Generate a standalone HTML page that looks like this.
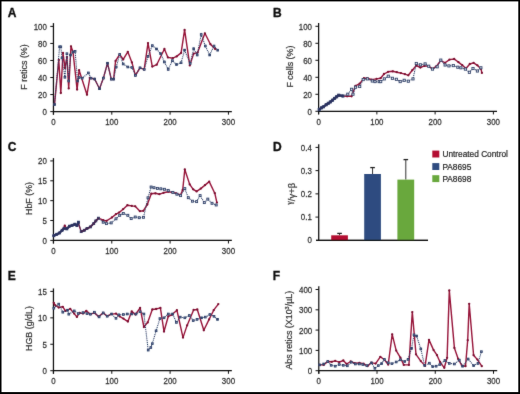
<!DOCTYPE html>
<html><head><meta charset="utf-8"><style>
html,body{margin:0;padding:0;background:#fff;}
svg{display:block;font-family:"Liberation Sans", sans-serif;}
text{stroke-width:0.22px;stroke:#333;}
text.b{stroke:#111;stroke-width:0.35px;}
</style></head><body>
<svg width="520" height="394" viewBox="0 0 520 394">
<defs><filter id="bl" x="-5%" y="-5%" width="110%" height="110%"><feConvolveMatrix order="3" kernelMatrix="0.01 0.06 0.01 0.06 0.72 0.06 0.01 0.06 0.01" preserveAlpha="false"/></filter></defs>
<rect width="520" height="394" fill="#fff"/>
<g filter="url(#bl)">
<line x1="53.45" y1="23.10" x2="53.45" y2="114.70" stroke="#111" stroke-width="1.25"/>
<line x1="53.45" y1="111.60" x2="231.85" y2="111.60" stroke="#111" stroke-width="1.25"/>
<line x1="50.25" y1="111.60" x2="53.45" y2="111.60" stroke="#111" stroke-width="1.0"/>
<text transform="translate(46.85,111.80) scale(1,1.17)" y="2.83" font-size="7.9" text-anchor="end" fill="#333">0</text>
<line x1="50.25" y1="94.56" x2="53.45" y2="94.56" stroke="#111" stroke-width="1.0"/>
<text transform="translate(46.85,94.76) scale(1,1.17)" y="2.83" font-size="7.9" text-anchor="end" fill="#333">20</text>
<line x1="50.25" y1="77.52" x2="53.45" y2="77.52" stroke="#111" stroke-width="1.0"/>
<text transform="translate(46.85,77.72) scale(1,1.17)" y="2.83" font-size="7.9" text-anchor="end" fill="#333">40</text>
<line x1="50.25" y1="60.48" x2="53.45" y2="60.48" stroke="#111" stroke-width="1.0"/>
<text transform="translate(46.85,60.68) scale(1,1.17)" y="2.83" font-size="7.9" text-anchor="end" fill="#333">60</text>
<line x1="50.25" y1="43.44" x2="53.45" y2="43.44" stroke="#111" stroke-width="1.0"/>
<text transform="translate(46.85,43.64) scale(1,1.17)" y="2.83" font-size="7.9" text-anchor="end" fill="#333">80</text>
<line x1="50.25" y1="26.40" x2="53.45" y2="26.40" stroke="#111" stroke-width="1.0"/>
<text transform="translate(46.85,26.60) scale(1,1.17)" y="2.83" font-size="7.9" text-anchor="end" fill="#333">100</text>
<line x1="53.45" y1="111.60" x2="53.45" y2="114.70" stroke="#111" stroke-width="1.0"/>
<text transform="translate(53.45,122.00) scale(1,1.17)" y="2.83" font-size="7.9" text-anchor="middle" fill="#333">0</text>
<line x1="111.78" y1="111.60" x2="111.78" y2="114.70" stroke="#111" stroke-width="1.0"/>
<text transform="translate(111.78,122.00) scale(1,1.17)" y="2.83" font-size="7.9" text-anchor="middle" fill="#333">100</text>
<line x1="170.12" y1="111.60" x2="170.12" y2="114.70" stroke="#111" stroke-width="1.0"/>
<text transform="translate(170.12,122.00) scale(1,1.17)" y="2.83" font-size="7.9" text-anchor="middle" fill="#333">200</text>
<line x1="228.45" y1="111.60" x2="228.45" y2="114.70" stroke="#111" stroke-width="1.0"/>
<text transform="translate(228.45,122.00) scale(1,1.17)" y="2.83" font-size="7.9" text-anchor="middle" fill="#333">300</text>
<text x="7.80" y="16.60" font-size="12" text-anchor="start" fill="#111" font-weight="bold" class="b">A</text>
<text transform="translate(27.30,67.00) rotate(-90)" font-size="8.9" text-anchor="middle" fill="#333">F retics (%)</text>
<line x1="318.60" y1="23.00" x2="318.60" y2="114.40" stroke="#111" stroke-width="1.25"/>
<line x1="318.60" y1="111.30" x2="497.00" y2="111.30" stroke="#111" stroke-width="1.25"/>
<line x1="315.40" y1="111.30" x2="318.60" y2="111.30" stroke="#111" stroke-width="1.0"/>
<text transform="translate(312.00,111.50) scale(1,1.17)" y="2.83" font-size="7.9" text-anchor="end" fill="#333">0</text>
<line x1="315.40" y1="94.30" x2="318.60" y2="94.30" stroke="#111" stroke-width="1.0"/>
<text transform="translate(312.00,94.50) scale(1,1.17)" y="2.83" font-size="7.9" text-anchor="end" fill="#333">20</text>
<line x1="315.40" y1="77.30" x2="318.60" y2="77.30" stroke="#111" stroke-width="1.0"/>
<text transform="translate(312.00,77.50) scale(1,1.17)" y="2.83" font-size="7.9" text-anchor="end" fill="#333">40</text>
<line x1="315.40" y1="60.30" x2="318.60" y2="60.30" stroke="#111" stroke-width="1.0"/>
<text transform="translate(312.00,60.50) scale(1,1.17)" y="2.83" font-size="7.9" text-anchor="end" fill="#333">60</text>
<line x1="315.40" y1="43.30" x2="318.60" y2="43.30" stroke="#111" stroke-width="1.0"/>
<text transform="translate(312.00,43.50) scale(1,1.17)" y="2.83" font-size="7.9" text-anchor="end" fill="#333">80</text>
<line x1="315.40" y1="26.30" x2="318.60" y2="26.30" stroke="#111" stroke-width="1.0"/>
<text transform="translate(312.00,26.50) scale(1,1.17)" y="2.83" font-size="7.9" text-anchor="end" fill="#333">100</text>
<line x1="318.60" y1="111.30" x2="318.60" y2="114.40" stroke="#111" stroke-width="1.0"/>
<text transform="translate(318.60,121.70) scale(1,1.17)" y="2.83" font-size="7.9" text-anchor="middle" fill="#333">0</text>
<line x1="376.87" y1="111.30" x2="376.87" y2="114.40" stroke="#111" stroke-width="1.0"/>
<text transform="translate(376.87,121.70) scale(1,1.17)" y="2.83" font-size="7.9" text-anchor="middle" fill="#333">100</text>
<line x1="435.13" y1="111.30" x2="435.13" y2="114.40" stroke="#111" stroke-width="1.0"/>
<text transform="translate(435.13,121.70) scale(1,1.17)" y="2.83" font-size="7.9" text-anchor="middle" fill="#333">200</text>
<line x1="493.40" y1="111.30" x2="493.40" y2="114.40" stroke="#111" stroke-width="1.0"/>
<text transform="translate(493.40,121.70) scale(1,1.17)" y="2.83" font-size="7.9" text-anchor="middle" fill="#333">300</text>
<text x="273.00" y="16.50" font-size="12" text-anchor="start" fill="#111" font-weight="bold" class="b">B</text>
<text transform="translate(292.50,66.60) rotate(-90)" font-size="8.9" text-anchor="middle" fill="#333">F cells (%)</text>
<line x1="53.45" y1="158.10" x2="53.45" y2="243.50" stroke="#111" stroke-width="1.25"/>
<line x1="53.45" y1="240.40" x2="231.85" y2="240.40" stroke="#111" stroke-width="1.25"/>
<line x1="50.25" y1="240.40" x2="53.45" y2="240.40" stroke="#111" stroke-width="1.0"/>
<text transform="translate(46.85,240.60) scale(1,1.17)" y="2.83" font-size="7.9" text-anchor="end" fill="#333">0</text>
<line x1="50.25" y1="220.53" x2="53.45" y2="220.53" stroke="#111" stroke-width="1.0"/>
<text transform="translate(46.85,220.72) scale(1,1.17)" y="2.83" font-size="7.9" text-anchor="end" fill="#333">5</text>
<line x1="50.25" y1="200.65" x2="53.45" y2="200.65" stroke="#111" stroke-width="1.0"/>
<text transform="translate(46.85,200.85) scale(1,1.17)" y="2.83" font-size="7.9" text-anchor="end" fill="#333">10</text>
<line x1="50.25" y1="180.78" x2="53.45" y2="180.78" stroke="#111" stroke-width="1.0"/>
<text transform="translate(46.85,180.97) scale(1,1.17)" y="2.83" font-size="7.9" text-anchor="end" fill="#333">15</text>
<line x1="50.25" y1="160.90" x2="53.45" y2="160.90" stroke="#111" stroke-width="1.0"/>
<text transform="translate(46.85,161.10) scale(1,1.17)" y="2.83" font-size="7.9" text-anchor="end" fill="#333">20</text>
<line x1="53.45" y1="240.40" x2="53.45" y2="243.50" stroke="#111" stroke-width="1.0"/>
<text transform="translate(53.45,250.80) scale(1,1.17)" y="2.83" font-size="7.9" text-anchor="middle" fill="#333">0</text>
<line x1="111.78" y1="240.40" x2="111.78" y2="243.50" stroke="#111" stroke-width="1.0"/>
<text transform="translate(111.78,250.80) scale(1,1.17)" y="2.83" font-size="7.9" text-anchor="middle" fill="#333">100</text>
<line x1="170.12" y1="240.40" x2="170.12" y2="243.50" stroke="#111" stroke-width="1.0"/>
<text transform="translate(170.12,250.80) scale(1,1.17)" y="2.83" font-size="7.9" text-anchor="middle" fill="#333">200</text>
<line x1="228.45" y1="240.40" x2="228.45" y2="243.50" stroke="#111" stroke-width="1.0"/>
<text transform="translate(228.45,250.80) scale(1,1.17)" y="2.83" font-size="7.9" text-anchor="middle" fill="#333">300</text>
<text x="7.80" y="151.00" font-size="12" text-anchor="start" fill="#111" font-weight="bold" class="b">C</text>
<text transform="translate(32.10,198.50) rotate(-90)" font-size="8.9" text-anchor="middle" fill="#333">HbF (%)</text>
<line x1="53.45" y1="288.40" x2="53.45" y2="373.80" stroke="#111" stroke-width="1.25"/>
<line x1="53.45" y1="370.70" x2="231.85" y2="370.70" stroke="#111" stroke-width="1.25"/>
<line x1="50.25" y1="370.70" x2="53.45" y2="370.70" stroke="#111" stroke-width="1.0"/>
<text transform="translate(46.85,370.90) scale(1,1.17)" y="2.83" font-size="7.9" text-anchor="end" fill="#333">0</text>
<line x1="50.25" y1="344.27" x2="53.45" y2="344.27" stroke="#111" stroke-width="1.0"/>
<text transform="translate(46.85,344.47) scale(1,1.17)" y="2.83" font-size="7.9" text-anchor="end" fill="#333">5</text>
<line x1="50.25" y1="317.83" x2="53.45" y2="317.83" stroke="#111" stroke-width="1.0"/>
<text transform="translate(46.85,318.03) scale(1,1.17)" y="2.83" font-size="7.9" text-anchor="end" fill="#333">10</text>
<line x1="50.25" y1="291.40" x2="53.45" y2="291.40" stroke="#111" stroke-width="1.0"/>
<text transform="translate(46.85,291.60) scale(1,1.17)" y="2.83" font-size="7.9" text-anchor="end" fill="#333">15</text>
<line x1="53.45" y1="370.70" x2="53.45" y2="373.80" stroke="#111" stroke-width="1.0"/>
<text transform="translate(53.45,381.10) scale(1,1.17)" y="2.83" font-size="7.9" text-anchor="middle" fill="#333">0</text>
<line x1="111.78" y1="370.70" x2="111.78" y2="373.80" stroke="#111" stroke-width="1.0"/>
<text transform="translate(111.78,381.10) scale(1,1.17)" y="2.83" font-size="7.9" text-anchor="middle" fill="#333">100</text>
<line x1="170.12" y1="370.70" x2="170.12" y2="373.80" stroke="#111" stroke-width="1.0"/>
<text transform="translate(170.12,381.10) scale(1,1.17)" y="2.83" font-size="7.9" text-anchor="middle" fill="#333">200</text>
<line x1="228.45" y1="370.70" x2="228.45" y2="373.80" stroke="#111" stroke-width="1.0"/>
<text transform="translate(228.45,381.10) scale(1,1.17)" y="2.83" font-size="7.9" text-anchor="middle" fill="#333">300</text>
<text x="7.80" y="279.90" font-size="12" text-anchor="start" fill="#111" font-weight="bold" class="b">E</text>
<text transform="translate(31.70,328.50) rotate(-90)" font-size="8.9" text-anchor="middle" fill="#333">HGB (g/dL)</text>
<line x1="318.80" y1="286.30" x2="318.80" y2="373.80" stroke="#111" stroke-width="1.25"/>
<line x1="318.80" y1="370.70" x2="497.20" y2="370.70" stroke="#111" stroke-width="1.25"/>
<line x1="315.60" y1="370.70" x2="318.80" y2="370.70" stroke="#111" stroke-width="1.0"/>
<text transform="translate(312.20,370.90) scale(1,1.17)" y="2.83" font-size="7.9" text-anchor="end" fill="#333">0</text>
<line x1="315.60" y1="350.40" x2="318.80" y2="350.40" stroke="#111" stroke-width="1.0"/>
<text transform="translate(312.20,350.60) scale(1,1.17)" y="2.83" font-size="7.9" text-anchor="end" fill="#333">100</text>
<line x1="315.60" y1="330.10" x2="318.80" y2="330.10" stroke="#111" stroke-width="1.0"/>
<text transform="translate(312.20,330.30) scale(1,1.17)" y="2.83" font-size="7.9" text-anchor="end" fill="#333">200</text>
<line x1="315.60" y1="309.80" x2="318.80" y2="309.80" stroke="#111" stroke-width="1.0"/>
<text transform="translate(312.20,310.00) scale(1,1.17)" y="2.83" font-size="7.9" text-anchor="end" fill="#333">300</text>
<line x1="315.60" y1="289.50" x2="318.80" y2="289.50" stroke="#111" stroke-width="1.0"/>
<text transform="translate(312.20,289.70) scale(1,1.17)" y="2.83" font-size="7.9" text-anchor="end" fill="#333">400</text>
<line x1="318.80" y1="370.70" x2="318.80" y2="373.80" stroke="#111" stroke-width="1.0"/>
<text transform="translate(318.80,381.10) scale(1,1.17)" y="2.83" font-size="7.9" text-anchor="middle" fill="#333">0</text>
<line x1="377.03" y1="370.70" x2="377.03" y2="373.80" stroke="#111" stroke-width="1.0"/>
<text transform="translate(377.03,381.10) scale(1,1.17)" y="2.83" font-size="7.9" text-anchor="middle" fill="#333">100</text>
<line x1="435.27" y1="370.70" x2="435.27" y2="373.80" stroke="#111" stroke-width="1.0"/>
<text transform="translate(435.27,381.10) scale(1,1.17)" y="2.83" font-size="7.9" text-anchor="middle" fill="#333">200</text>
<line x1="493.50" y1="370.70" x2="493.50" y2="373.80" stroke="#111" stroke-width="1.0"/>
<text transform="translate(493.50,381.10) scale(1,1.17)" y="2.83" font-size="7.9" text-anchor="middle" fill="#333">300</text>
<text x="272.80" y="279.90" font-size="12" text-anchor="start" fill="#111" font-weight="bold" class="b">F</text>
<text transform="translate(292.20,330.20) rotate(-90)" font-size="8.9" text-anchor="middle" fill="#333">Abs retics (X10<tspan font-size="5.5" dy="-3">3</tspan><tspan dy="3">/µL)</tspan></text>
<line x1="318.70" y1="144.30" x2="318.70" y2="240.30" stroke="#111" stroke-width="1.25"/>
<line x1="316.10" y1="240.30" x2="428.00" y2="240.30" stroke="#111" stroke-width="1.25"/>
<line x1="315.50" y1="217.08" x2="318.70" y2="217.08" stroke="#111" stroke-width="1.0"/>
<text transform="translate(311.80,216.98) scale(1,1.17)" y="2.83" font-size="7.9" text-anchor="end" fill="#333">0.1</text>
<line x1="315.50" y1="193.85" x2="318.70" y2="193.85" stroke="#111" stroke-width="1.0"/>
<text transform="translate(311.80,193.75) scale(1,1.17)" y="2.83" font-size="7.9" text-anchor="end" fill="#333">0.2</text>
<line x1="315.50" y1="170.62" x2="318.70" y2="170.62" stroke="#111" stroke-width="1.0"/>
<text transform="translate(311.80,170.53) scale(1,1.17)" y="2.83" font-size="7.9" text-anchor="end" fill="#333">0.3</text>
<line x1="315.50" y1="147.40" x2="318.70" y2="147.40" stroke="#111" stroke-width="1.0"/>
<text transform="translate(311.80,147.30) scale(1,1.17)" y="2.83" font-size="7.9" text-anchor="end" fill="#333">0.4</text>
<text transform="translate(311.80,240.10) scale(1,1.17)" y="2.83" font-size="7.9" text-anchor="end" fill="#333">0</text>
<text x="273.00" y="151.00" font-size="12" text-anchor="start" fill="#111" font-weight="bold" class="b">D</text>
<line x1="339.55" y1="233.40" x2="339.55" y2="235.30" stroke="#333" stroke-width="1.0"/>
<line x1="337.25" y1="233.40" x2="341.85" y2="233.40" stroke="#222" stroke-width="1.3"/>
<rect x="331.20" y="235.30" width="16.70" height="5.00" fill="#b41030"/>
<line x1="372.55" y1="167.60" x2="372.55" y2="174.00" stroke="#333" stroke-width="1.0"/>
<line x1="370.25" y1="167.60" x2="374.85" y2="167.60" stroke="#222" stroke-width="1.3"/>
<rect x="364.20" y="174.00" width="16.70" height="66.30" fill="#2e4c80"/>
<line x1="405.80" y1="159.60" x2="405.80" y2="179.60" stroke="#333" stroke-width="1.0"/>
<line x1="403.50" y1="159.60" x2="408.10" y2="159.60" stroke="#222" stroke-width="1.3"/>
<rect x="397.40" y="179.60" width="16.80" height="60.70" fill="#69a83c"/>
<line x1="316.10" y1="240.30" x2="428.00" y2="240.30" stroke="#111" stroke-width="1.25"/>
<rect x="432.3" y="150.60" width="7" height="6.9" fill="#b41030"/>
<text x="442.40" y="157.35" font-size="8.3" text-anchor="start" fill="#222" >Untreated Control</text>
<rect x="432.3" y="163.10" width="7" height="6.9" fill="#2e4c80"/>
<text x="442.40" y="169.85" font-size="8.3" text-anchor="start" fill="#222" >PA8695</text>
<rect x="432.3" y="175.20" width="7" height="6.9" fill="#69a83c"/>
<text x="442.40" y="181.95" font-size="8.3" text-anchor="start" fill="#222" >PA8698</text>
<text transform="translate(295.2,193.7) rotate(-90)" font-size="9.4" text-anchor="middle" fill="#333"><tspan font-size="6.6" dy="-2.8">γ</tspan><tspan dy="2.8">/γ+β</tspan></text>
<polyline points="54.5,104.5 58.8,60.0 60.8,93.0 63.0,53.0 65.0,68.0 66.9,57.0 68.7,88.4 71.0,46.3 73.0,52.0 77.1,89.5 79.1,70.2 87.0,94.7 89.8,78.0 94.6,79.0 99.5,88.7 103.4,78.1 107.5,63.2 111.3,79.2 113.6,79.2 115.6,60.9 119.7,54.5 123.2,59.4 127.8,51.8 131.9,62.4 135.4,75.4 140.0,67.8 144.2,69.4 148.0,43.1 152.3,66.6 156.7,64.7 164.4,49.0 167.9,57.4 172.8,58.2 176.7,56.4 181.1,52.9 184.6,29.9 189.8,65.4 193.7,53.6 197.6,52.6 204.9,33.3 210.4,44.2 215.2,49.0" fill="none" stroke="#961239" stroke-width="1.4" stroke-linejoin="round"/>
<circle cx="54.5" cy="104.5" r="1.15" fill="#7a0e30"/>
<circle cx="58.8" cy="60.0" r="1.15" fill="#7a0e30"/>
<circle cx="60.8" cy="93.0" r="1.15" fill="#7a0e30"/>
<circle cx="63.0" cy="53.0" r="1.15" fill="#7a0e30"/>
<circle cx="65.0" cy="68.0" r="1.15" fill="#7a0e30"/>
<circle cx="66.9" cy="57.0" r="1.15" fill="#7a0e30"/>
<circle cx="68.7" cy="88.4" r="1.15" fill="#7a0e30"/>
<circle cx="71.0" cy="46.3" r="1.15" fill="#7a0e30"/>
<circle cx="73.0" cy="52.0" r="1.15" fill="#7a0e30"/>
<circle cx="77.1" cy="89.5" r="1.15" fill="#7a0e30"/>
<circle cx="79.1" cy="70.2" r="1.15" fill="#7a0e30"/>
<circle cx="87.0" cy="94.7" r="1.15" fill="#7a0e30"/>
<circle cx="89.8" cy="78.0" r="1.15" fill="#7a0e30"/>
<circle cx="94.6" cy="79.0" r="1.15" fill="#7a0e30"/>
<circle cx="99.5" cy="88.7" r="1.15" fill="#7a0e30"/>
<circle cx="103.4" cy="78.1" r="1.15" fill="#7a0e30"/>
<circle cx="107.5" cy="63.2" r="1.15" fill="#7a0e30"/>
<circle cx="111.3" cy="79.2" r="1.15" fill="#7a0e30"/>
<circle cx="113.6" cy="79.2" r="1.15" fill="#7a0e30"/>
<circle cx="115.6" cy="60.9" r="1.15" fill="#7a0e30"/>
<circle cx="119.7" cy="54.5" r="1.15" fill="#7a0e30"/>
<circle cx="123.2" cy="59.4" r="1.15" fill="#7a0e30"/>
<circle cx="127.8" cy="51.8" r="1.15" fill="#7a0e30"/>
<circle cx="131.9" cy="62.4" r="1.15" fill="#7a0e30"/>
<circle cx="135.4" cy="75.4" r="1.15" fill="#7a0e30"/>
<circle cx="140.0" cy="67.8" r="1.15" fill="#7a0e30"/>
<circle cx="144.2" cy="69.4" r="1.15" fill="#7a0e30"/>
<circle cx="148.0" cy="43.1" r="1.15" fill="#7a0e30"/>
<circle cx="152.3" cy="66.6" r="1.15" fill="#7a0e30"/>
<circle cx="156.7" cy="64.7" r="1.15" fill="#7a0e30"/>
<circle cx="164.4" cy="49.0" r="1.15" fill="#7a0e30"/>
<circle cx="167.9" cy="57.4" r="1.15" fill="#7a0e30"/>
<circle cx="172.8" cy="58.2" r="1.15" fill="#7a0e30"/>
<circle cx="176.7" cy="56.4" r="1.15" fill="#7a0e30"/>
<circle cx="181.1" cy="52.9" r="1.15" fill="#7a0e30"/>
<circle cx="184.6" cy="29.9" r="1.15" fill="#7a0e30"/>
<circle cx="189.8" cy="65.4" r="1.15" fill="#7a0e30"/>
<circle cx="193.7" cy="53.6" r="1.15" fill="#7a0e30"/>
<circle cx="197.6" cy="52.6" r="1.15" fill="#7a0e30"/>
<circle cx="204.9" cy="33.3" r="1.15" fill="#7a0e30"/>
<circle cx="210.4" cy="44.2" r="1.15" fill="#7a0e30"/>
<circle cx="215.2" cy="49.0" r="1.15" fill="#7a0e30"/>
<polyline points="54.5,104.5 59.6,46.8 60.8,46.8 62.0,58.0 64.9,77.3 66.9,53.7 68.7,81.0 70.5,55.0 73.0,52.0 75.1,51.4 77.6,81.0 79.1,77.5 82.2,78.2 88.4,72.9 91.0,78.2 94.6,79.0 99.5,88.7 103.4,78.1 107.5,63.2 111.3,79.2 113.6,79.2 116.2,67.0 119.7,54.5 123.2,64.0 127.8,67.0 131.9,67.5 135.4,75.4 140.0,67.8 144.2,69.4 148.0,56.4 152.3,45.6 156.5,49.0 160.6,53.6 164.4,62.0 168.2,69.4 172.4,60.6 176.5,64.5 181.1,62.7 184.6,50.1 190.2,63.4 193.7,48.7 197.2,55.0 201.2,34.5 205.3,46.0 209.7,55.0 214.0,46.0 217.7,50.2" fill="none" stroke="#2b3d66" stroke-width="1.05" stroke-dasharray="1.1 0.8"/>
<rect x="53.62" y="103.62" width="1.75" height="1.75" fill="#7d8db0" stroke="#2b3d66" stroke-width="0.85"/>
<rect x="58.73" y="45.92" width="1.75" height="1.75" fill="#7d8db0" stroke="#2b3d66" stroke-width="0.85"/>
<rect x="59.92" y="45.92" width="1.75" height="1.75" fill="#7d8db0" stroke="#2b3d66" stroke-width="0.85"/>
<rect x="61.12" y="57.12" width="1.75" height="1.75" fill="#7d8db0" stroke="#2b3d66" stroke-width="0.85"/>
<rect x="64.03" y="76.42" width="1.75" height="1.75" fill="#7d8db0" stroke="#2b3d66" stroke-width="0.85"/>
<rect x="66.03" y="52.83" width="1.75" height="1.75" fill="#7d8db0" stroke="#2b3d66" stroke-width="0.85"/>
<rect x="67.83" y="80.12" width="1.75" height="1.75" fill="#7d8db0" stroke="#2b3d66" stroke-width="0.85"/>
<rect x="69.62" y="54.12" width="1.75" height="1.75" fill="#7d8db0" stroke="#2b3d66" stroke-width="0.85"/>
<rect x="72.12" y="51.12" width="1.75" height="1.75" fill="#7d8db0" stroke="#2b3d66" stroke-width="0.85"/>
<rect x="74.22" y="50.52" width="1.75" height="1.75" fill="#7d8db0" stroke="#2b3d66" stroke-width="0.85"/>
<rect x="76.72" y="80.12" width="1.75" height="1.75" fill="#7d8db0" stroke="#2b3d66" stroke-width="0.85"/>
<rect x="78.22" y="76.62" width="1.75" height="1.75" fill="#7d8db0" stroke="#2b3d66" stroke-width="0.85"/>
<rect x="81.33" y="77.33" width="1.75" height="1.75" fill="#7d8db0" stroke="#2b3d66" stroke-width="0.85"/>
<rect x="87.53" y="72.03" width="1.75" height="1.75" fill="#7d8db0" stroke="#2b3d66" stroke-width="0.85"/>
<rect x="90.12" y="77.33" width="1.75" height="1.75" fill="#7d8db0" stroke="#2b3d66" stroke-width="0.85"/>
<rect x="93.72" y="78.12" width="1.75" height="1.75" fill="#7d8db0" stroke="#2b3d66" stroke-width="0.85"/>
<rect x="98.62" y="87.83" width="1.75" height="1.75" fill="#7d8db0" stroke="#2b3d66" stroke-width="0.85"/>
<rect x="102.53" y="77.22" width="1.75" height="1.75" fill="#7d8db0" stroke="#2b3d66" stroke-width="0.85"/>
<rect x="106.62" y="62.33" width="1.75" height="1.75" fill="#7d8db0" stroke="#2b3d66" stroke-width="0.85"/>
<rect x="110.42" y="78.33" width="1.75" height="1.75" fill="#7d8db0" stroke="#2b3d66" stroke-width="0.85"/>
<rect x="112.72" y="78.33" width="1.75" height="1.75" fill="#7d8db0" stroke="#2b3d66" stroke-width="0.85"/>
<rect x="115.33" y="66.12" width="1.75" height="1.75" fill="#7d8db0" stroke="#2b3d66" stroke-width="0.85"/>
<rect x="118.83" y="53.62" width="1.75" height="1.75" fill="#7d8db0" stroke="#2b3d66" stroke-width="0.85"/>
<rect x="122.33" y="63.12" width="1.75" height="1.75" fill="#7d8db0" stroke="#2b3d66" stroke-width="0.85"/>
<rect x="126.92" y="66.12" width="1.75" height="1.75" fill="#7d8db0" stroke="#2b3d66" stroke-width="0.85"/>
<rect x="131.03" y="66.62" width="1.75" height="1.75" fill="#7d8db0" stroke="#2b3d66" stroke-width="0.85"/>
<rect x="134.53" y="74.53" width="1.75" height="1.75" fill="#7d8db0" stroke="#2b3d66" stroke-width="0.85"/>
<rect x="139.12" y="66.92" width="1.75" height="1.75" fill="#7d8db0" stroke="#2b3d66" stroke-width="0.85"/>
<rect x="143.32" y="68.53" width="1.75" height="1.75" fill="#7d8db0" stroke="#2b3d66" stroke-width="0.85"/>
<rect x="147.12" y="55.52" width="1.75" height="1.75" fill="#7d8db0" stroke="#2b3d66" stroke-width="0.85"/>
<rect x="151.43" y="44.73" width="1.75" height="1.75" fill="#7d8db0" stroke="#2b3d66" stroke-width="0.85"/>
<rect x="155.62" y="48.12" width="1.75" height="1.75" fill="#7d8db0" stroke="#2b3d66" stroke-width="0.85"/>
<rect x="159.72" y="52.73" width="1.75" height="1.75" fill="#7d8db0" stroke="#2b3d66" stroke-width="0.85"/>
<rect x="163.53" y="61.12" width="1.75" height="1.75" fill="#7d8db0" stroke="#2b3d66" stroke-width="0.85"/>
<rect x="167.32" y="68.53" width="1.75" height="1.75" fill="#7d8db0" stroke="#2b3d66" stroke-width="0.85"/>
<rect x="171.53" y="59.73" width="1.75" height="1.75" fill="#7d8db0" stroke="#2b3d66" stroke-width="0.85"/>
<rect x="175.62" y="63.62" width="1.75" height="1.75" fill="#7d8db0" stroke="#2b3d66" stroke-width="0.85"/>
<rect x="180.22" y="61.83" width="1.75" height="1.75" fill="#7d8db0" stroke="#2b3d66" stroke-width="0.85"/>
<rect x="183.72" y="49.23" width="1.75" height="1.75" fill="#7d8db0" stroke="#2b3d66" stroke-width="0.85"/>
<rect x="189.32" y="62.52" width="1.75" height="1.75" fill="#7d8db0" stroke="#2b3d66" stroke-width="0.85"/>
<rect x="192.82" y="47.83" width="1.75" height="1.75" fill="#7d8db0" stroke="#2b3d66" stroke-width="0.85"/>
<rect x="196.32" y="54.12" width="1.75" height="1.75" fill="#7d8db0" stroke="#2b3d66" stroke-width="0.85"/>
<rect x="200.32" y="33.62" width="1.75" height="1.75" fill="#7d8db0" stroke="#2b3d66" stroke-width="0.85"/>
<rect x="204.43" y="45.12" width="1.75" height="1.75" fill="#7d8db0" stroke="#2b3d66" stroke-width="0.85"/>
<rect x="208.82" y="54.12" width="1.75" height="1.75" fill="#7d8db0" stroke="#2b3d66" stroke-width="0.85"/>
<rect x="213.12" y="45.12" width="1.75" height="1.75" fill="#7d8db0" stroke="#2b3d66" stroke-width="0.85"/>
<rect x="216.82" y="49.33" width="1.75" height="1.75" fill="#7d8db0" stroke="#2b3d66" stroke-width="0.85"/>
<polyline points="319.2,109.5 323.4,106.8 326.2,104.7 330.4,101.9 334.6,98.4 338.7,95.2 342.9,96.0 347.1,96.3 351.6,96.3 355.5,85.8 359.7,83.7 363.9,78.2 367.4,78.2 371.6,79.6 376.5,78.9 380.6,78.2 384.0,74.0 388.1,71.8 392.8,71.3 396.8,72.2 400.9,73.1 404.9,74.2 408.3,75.3 412.3,70.2 416.3,65.5 420.4,67.5 424.4,65.9 428.5,66.2 432.5,68.8 436.5,66.2 440.8,60.5 445.1,62.8 449.5,59.6 454.2,59.0 458.4,62.1 462.2,65.1 466.0,68.5 469.8,64.0 473.6,62.8 477.4,65.3 480.9,68.9 481.9,72.9" fill="none" stroke="#961239" stroke-width="1.4" stroke-linejoin="round"/>
<circle cx="319.2" cy="109.5" r="1.15" fill="#7a0e30"/>
<circle cx="323.4" cy="106.8" r="1.15" fill="#7a0e30"/>
<circle cx="326.2" cy="104.7" r="1.15" fill="#7a0e30"/>
<circle cx="330.4" cy="101.9" r="1.15" fill="#7a0e30"/>
<circle cx="334.6" cy="98.4" r="1.15" fill="#7a0e30"/>
<circle cx="338.7" cy="95.2" r="1.15" fill="#7a0e30"/>
<circle cx="342.9" cy="96.0" r="1.15" fill="#7a0e30"/>
<circle cx="347.1" cy="96.3" r="1.15" fill="#7a0e30"/>
<circle cx="351.6" cy="96.3" r="1.15" fill="#7a0e30"/>
<circle cx="355.5" cy="85.8" r="1.15" fill="#7a0e30"/>
<circle cx="359.7" cy="83.7" r="1.15" fill="#7a0e30"/>
<circle cx="363.9" cy="78.2" r="1.15" fill="#7a0e30"/>
<circle cx="367.4" cy="78.2" r="1.15" fill="#7a0e30"/>
<circle cx="371.6" cy="79.6" r="1.15" fill="#7a0e30"/>
<circle cx="376.5" cy="78.9" r="1.15" fill="#7a0e30"/>
<circle cx="380.6" cy="78.2" r="1.15" fill="#7a0e30"/>
<circle cx="384.0" cy="74.0" r="1.15" fill="#7a0e30"/>
<circle cx="388.1" cy="71.8" r="1.15" fill="#7a0e30"/>
<circle cx="392.8" cy="71.3" r="1.15" fill="#7a0e30"/>
<circle cx="396.8" cy="72.2" r="1.15" fill="#7a0e30"/>
<circle cx="400.9" cy="73.1" r="1.15" fill="#7a0e30"/>
<circle cx="404.9" cy="74.2" r="1.15" fill="#7a0e30"/>
<circle cx="408.3" cy="75.3" r="1.15" fill="#7a0e30"/>
<circle cx="412.3" cy="70.2" r="1.15" fill="#7a0e30"/>
<circle cx="416.3" cy="65.5" r="1.15" fill="#7a0e30"/>
<circle cx="420.4" cy="67.5" r="1.15" fill="#7a0e30"/>
<circle cx="424.4" cy="65.9" r="1.15" fill="#7a0e30"/>
<circle cx="428.5" cy="66.2" r="1.15" fill="#7a0e30"/>
<circle cx="432.5" cy="68.8" r="1.15" fill="#7a0e30"/>
<circle cx="436.5" cy="66.2" r="1.15" fill="#7a0e30"/>
<circle cx="440.8" cy="60.5" r="1.15" fill="#7a0e30"/>
<circle cx="445.1" cy="62.8" r="1.15" fill="#7a0e30"/>
<circle cx="449.5" cy="59.6" r="1.15" fill="#7a0e30"/>
<circle cx="454.2" cy="59.0" r="1.15" fill="#7a0e30"/>
<circle cx="458.4" cy="62.1" r="1.15" fill="#7a0e30"/>
<circle cx="462.2" cy="65.1" r="1.15" fill="#7a0e30"/>
<circle cx="466.0" cy="68.5" r="1.15" fill="#7a0e30"/>
<circle cx="469.8" cy="64.0" r="1.15" fill="#7a0e30"/>
<circle cx="473.6" cy="62.8" r="1.15" fill="#7a0e30"/>
<circle cx="477.4" cy="65.3" r="1.15" fill="#7a0e30"/>
<circle cx="480.9" cy="68.9" r="1.15" fill="#7a0e30"/>
<circle cx="481.9" cy="72.9" r="1.15" fill="#7a0e30"/>
<polyline points="319.2,109.5 321.5,107.8 323.4,106.8 326.2,104.7 328.3,103.3 330.4,101.9 332.5,100.2 334.6,98.4 336.6,96.8 338.7,95.2 342.9,96.0 347.8,94.2 351.6,89.3 353.0,94.2 355.5,87.2 359.7,86.5 363.2,79.6 367.4,78.9 372.3,81.0 375.0,81.6 379.2,81.6 380.7,81.6 384.3,78.9 388.3,76.2 392.4,78.3 396.4,79.3 400.2,81.6 404.2,80.3 408.3,81.2 413.0,78.9 416.3,63.5 420.4,64.8 425.1,63.9 428.7,66.2 432.5,69.1 437.2,66.8 440.8,60.1 445.1,65.0 448.9,65.9 453.3,65.6 457.8,67.2 460.9,67.8 465.4,69.1 469.4,72.3 473.0,68.5 477.4,71.0 480.9,67.8" fill="none" stroke="#2b3d66" stroke-width="1.05" stroke-dasharray="1.1 0.8"/>
<rect x="318.10" y="108.40" width="2.2" height="2.2" fill="#d4dbe8" stroke="#2b3d66" stroke-width="0.85"/>
<rect x="320.40" y="106.70" width="2.2" height="2.2" fill="#d4dbe8" stroke="#2b3d66" stroke-width="0.85"/>
<rect x="322.30" y="105.70" width="2.2" height="2.2" fill="#d4dbe8" stroke="#2b3d66" stroke-width="0.85"/>
<rect x="325.10" y="103.60" width="2.2" height="2.2" fill="#d4dbe8" stroke="#2b3d66" stroke-width="0.85"/>
<rect x="327.20" y="102.20" width="2.2" height="2.2" fill="#d4dbe8" stroke="#2b3d66" stroke-width="0.85"/>
<rect x="329.30" y="100.80" width="2.2" height="2.2" fill="#d4dbe8" stroke="#2b3d66" stroke-width="0.85"/>
<rect x="331.40" y="99.10" width="2.2" height="2.2" fill="#d4dbe8" stroke="#2b3d66" stroke-width="0.85"/>
<rect x="333.50" y="97.30" width="2.2" height="2.2" fill="#d4dbe8" stroke="#2b3d66" stroke-width="0.85"/>
<rect x="335.50" y="95.70" width="2.2" height="2.2" fill="#d4dbe8" stroke="#2b3d66" stroke-width="0.85"/>
<rect x="337.60" y="94.10" width="2.2" height="2.2" fill="#d4dbe8" stroke="#2b3d66" stroke-width="0.85"/>
<rect x="341.80" y="94.90" width="2.2" height="2.2" fill="#d4dbe8" stroke="#2b3d66" stroke-width="0.85"/>
<rect x="346.70" y="93.10" width="2.2" height="2.2" fill="#d4dbe8" stroke="#2b3d66" stroke-width="0.85"/>
<rect x="350.50" y="88.20" width="2.2" height="2.2" fill="#d4dbe8" stroke="#2b3d66" stroke-width="0.85"/>
<rect x="351.90" y="93.10" width="2.2" height="2.2" fill="#d4dbe8" stroke="#2b3d66" stroke-width="0.85"/>
<rect x="354.40" y="86.10" width="2.2" height="2.2" fill="#d4dbe8" stroke="#2b3d66" stroke-width="0.85"/>
<rect x="358.60" y="85.40" width="2.2" height="2.2" fill="#d4dbe8" stroke="#2b3d66" stroke-width="0.85"/>
<rect x="362.10" y="78.50" width="2.2" height="2.2" fill="#d4dbe8" stroke="#2b3d66" stroke-width="0.85"/>
<rect x="366.30" y="77.80" width="2.2" height="2.2" fill="#d4dbe8" stroke="#2b3d66" stroke-width="0.85"/>
<rect x="371.20" y="79.90" width="2.2" height="2.2" fill="#d4dbe8" stroke="#2b3d66" stroke-width="0.85"/>
<rect x="373.90" y="80.50" width="2.2" height="2.2" fill="#d4dbe8" stroke="#2b3d66" stroke-width="0.85"/>
<rect x="378.10" y="80.50" width="2.2" height="2.2" fill="#d4dbe8" stroke="#2b3d66" stroke-width="0.85"/>
<rect x="379.60" y="80.50" width="2.2" height="2.2" fill="#d4dbe8" stroke="#2b3d66" stroke-width="0.85"/>
<rect x="383.20" y="77.80" width="2.2" height="2.2" fill="#d4dbe8" stroke="#2b3d66" stroke-width="0.85"/>
<rect x="387.20" y="75.10" width="2.2" height="2.2" fill="#d4dbe8" stroke="#2b3d66" stroke-width="0.85"/>
<rect x="391.30" y="77.20" width="2.2" height="2.2" fill="#d4dbe8" stroke="#2b3d66" stroke-width="0.85"/>
<rect x="395.30" y="78.20" width="2.2" height="2.2" fill="#d4dbe8" stroke="#2b3d66" stroke-width="0.85"/>
<rect x="399.10" y="80.50" width="2.2" height="2.2" fill="#d4dbe8" stroke="#2b3d66" stroke-width="0.85"/>
<rect x="403.10" y="79.20" width="2.2" height="2.2" fill="#d4dbe8" stroke="#2b3d66" stroke-width="0.85"/>
<rect x="407.20" y="80.10" width="2.2" height="2.2" fill="#d4dbe8" stroke="#2b3d66" stroke-width="0.85"/>
<rect x="411.90" y="77.80" width="2.2" height="2.2" fill="#d4dbe8" stroke="#2b3d66" stroke-width="0.85"/>
<rect x="415.20" y="62.40" width="2.2" height="2.2" fill="#d4dbe8" stroke="#2b3d66" stroke-width="0.85"/>
<rect x="419.30" y="63.70" width="2.2" height="2.2" fill="#d4dbe8" stroke="#2b3d66" stroke-width="0.85"/>
<rect x="424.00" y="62.80" width="2.2" height="2.2" fill="#d4dbe8" stroke="#2b3d66" stroke-width="0.85"/>
<rect x="427.60" y="65.10" width="2.2" height="2.2" fill="#d4dbe8" stroke="#2b3d66" stroke-width="0.85"/>
<rect x="431.40" y="68.00" width="2.2" height="2.2" fill="#d4dbe8" stroke="#2b3d66" stroke-width="0.85"/>
<rect x="436.10" y="65.70" width="2.2" height="2.2" fill="#d4dbe8" stroke="#2b3d66" stroke-width="0.85"/>
<rect x="439.70" y="59.00" width="2.2" height="2.2" fill="#d4dbe8" stroke="#2b3d66" stroke-width="0.85"/>
<rect x="444.00" y="63.90" width="2.2" height="2.2" fill="#d4dbe8" stroke="#2b3d66" stroke-width="0.85"/>
<rect x="447.80" y="64.80" width="2.2" height="2.2" fill="#d4dbe8" stroke="#2b3d66" stroke-width="0.85"/>
<rect x="452.20" y="64.50" width="2.2" height="2.2" fill="#d4dbe8" stroke="#2b3d66" stroke-width="0.85"/>
<rect x="456.70" y="66.10" width="2.2" height="2.2" fill="#d4dbe8" stroke="#2b3d66" stroke-width="0.85"/>
<rect x="459.80" y="66.70" width="2.2" height="2.2" fill="#d4dbe8" stroke="#2b3d66" stroke-width="0.85"/>
<rect x="464.30" y="68.00" width="2.2" height="2.2" fill="#d4dbe8" stroke="#2b3d66" stroke-width="0.85"/>
<rect x="468.30" y="71.20" width="2.2" height="2.2" fill="#d4dbe8" stroke="#2b3d66" stroke-width="0.85"/>
<rect x="471.90" y="67.40" width="2.2" height="2.2" fill="#d4dbe8" stroke="#2b3d66" stroke-width="0.85"/>
<rect x="476.30" y="69.90" width="2.2" height="2.2" fill="#d4dbe8" stroke="#2b3d66" stroke-width="0.85"/>
<rect x="479.80" y="66.70" width="2.2" height="2.2" fill="#d4dbe8" stroke="#2b3d66" stroke-width="0.85"/>
<polyline points="53.8,235.7 56.7,234.3 59.4,233.0 62.1,230.3 64.8,225.6 66.8,228.9 69.5,226.2 72.2,225.3 74.9,224.2 76.9,225.6 78.5,224.0 81.2,231.6 84.3,230.3 87.0,228.5 90.4,226.9 93.7,223.6 95.8,220.9 98.5,218.2 103.2,220.2 106.5,220.9 111.9,217.5 116.0,214.1 119.0,212.6 123.1,209.2 127.4,205.2 131.8,205.9 135.2,206.3 139.9,211.2 143.3,210.8 147.3,204.5 151.3,193.7 155.4,193.3 159.4,194.2 163.5,192.8 168.2,191.7 172.2,192.4 176.2,193.3 180.6,194.9 182.7,190.0 184.8,169.5 189.7,184.4 193.2,189.3 196.6,191.4 200.8,188.6 205.0,185.1 209.2,181.6 214.8,193.2 216.9,202.6" fill="none" stroke="#961239" stroke-width="1.4" stroke-linejoin="round"/>
<circle cx="53.8" cy="235.7" r="1.15" fill="#7a0e30"/>
<circle cx="56.7" cy="234.3" r="1.15" fill="#7a0e30"/>
<circle cx="59.4" cy="233.0" r="1.15" fill="#7a0e30"/>
<circle cx="62.1" cy="230.3" r="1.15" fill="#7a0e30"/>
<circle cx="64.8" cy="225.6" r="1.15" fill="#7a0e30"/>
<circle cx="66.8" cy="228.9" r="1.15" fill="#7a0e30"/>
<circle cx="69.5" cy="226.2" r="1.15" fill="#7a0e30"/>
<circle cx="72.2" cy="225.3" r="1.15" fill="#7a0e30"/>
<circle cx="74.9" cy="224.2" r="1.15" fill="#7a0e30"/>
<circle cx="76.9" cy="225.6" r="1.15" fill="#7a0e30"/>
<circle cx="78.5" cy="224.0" r="1.15" fill="#7a0e30"/>
<circle cx="81.2" cy="231.6" r="1.15" fill="#7a0e30"/>
<circle cx="84.3" cy="230.3" r="1.15" fill="#7a0e30"/>
<circle cx="87.0" cy="228.5" r="1.15" fill="#7a0e30"/>
<circle cx="90.4" cy="226.9" r="1.15" fill="#7a0e30"/>
<circle cx="93.7" cy="223.6" r="1.15" fill="#7a0e30"/>
<circle cx="95.8" cy="220.9" r="1.15" fill="#7a0e30"/>
<circle cx="98.5" cy="218.2" r="1.15" fill="#7a0e30"/>
<circle cx="103.2" cy="220.2" r="1.15" fill="#7a0e30"/>
<circle cx="106.5" cy="220.9" r="1.15" fill="#7a0e30"/>
<circle cx="111.9" cy="217.5" r="1.15" fill="#7a0e30"/>
<circle cx="116.0" cy="214.1" r="1.15" fill="#7a0e30"/>
<circle cx="119.0" cy="212.6" r="1.15" fill="#7a0e30"/>
<circle cx="123.1" cy="209.2" r="1.15" fill="#7a0e30"/>
<circle cx="127.4" cy="205.2" r="1.15" fill="#7a0e30"/>
<circle cx="131.8" cy="205.9" r="1.15" fill="#7a0e30"/>
<circle cx="135.2" cy="206.3" r="1.15" fill="#7a0e30"/>
<circle cx="139.9" cy="211.2" r="1.15" fill="#7a0e30"/>
<circle cx="143.3" cy="210.8" r="1.15" fill="#7a0e30"/>
<circle cx="147.3" cy="204.5" r="1.15" fill="#7a0e30"/>
<circle cx="151.3" cy="193.7" r="1.15" fill="#7a0e30"/>
<circle cx="155.4" cy="193.3" r="1.15" fill="#7a0e30"/>
<circle cx="159.4" cy="194.2" r="1.15" fill="#7a0e30"/>
<circle cx="163.5" cy="192.8" r="1.15" fill="#7a0e30"/>
<circle cx="168.2" cy="191.7" r="1.15" fill="#7a0e30"/>
<circle cx="172.2" cy="192.4" r="1.15" fill="#7a0e30"/>
<circle cx="176.2" cy="193.3" r="1.15" fill="#7a0e30"/>
<circle cx="180.6" cy="194.9" r="1.15" fill="#7a0e30"/>
<circle cx="182.7" cy="190.0" r="1.15" fill="#7a0e30"/>
<circle cx="184.8" cy="169.5" r="1.15" fill="#7a0e30"/>
<circle cx="189.7" cy="184.4" r="1.15" fill="#7a0e30"/>
<circle cx="193.2" cy="189.3" r="1.15" fill="#7a0e30"/>
<circle cx="196.6" cy="191.4" r="1.15" fill="#7a0e30"/>
<circle cx="200.8" cy="188.6" r="1.15" fill="#7a0e30"/>
<circle cx="205.0" cy="185.1" r="1.15" fill="#7a0e30"/>
<circle cx="209.2" cy="181.6" r="1.15" fill="#7a0e30"/>
<circle cx="214.8" cy="193.2" r="1.15" fill="#7a0e30"/>
<circle cx="216.9" cy="202.6" r="1.15" fill="#7a0e30"/>
<polyline points="53.8,235.7 56.7,234.3 59.4,233.0 62.1,230.3 64.1,228.3 66.8,228.9 69.5,226.2 72.2,225.3 74.9,224.2 76.9,225.6 78.5,222.2 81.2,231.6 84.3,230.3 87.0,228.5 90.4,226.9 93.7,223.6 95.8,220.9 98.5,218.2 103.2,222.2 106.5,223.6 111.2,222.9 116.0,218.8 119.7,215.3 123.3,213.5 127.8,215.3 131.2,218.6 135.2,217.0 139.2,217.7 143.5,217.3 148.0,197.8 151.1,187.0 154.0,187.7 157.4,188.4 160.8,188.8 164.5,189.3 168.2,190.4 172.9,192.4 176.9,194.2 180.6,195.6 184.8,188.6 188.3,197.7 192.5,201.2 196.6,201.6 200.1,195.6 204.3,202.6 207.8,199.1 212.0,203.3 216.2,205.0" fill="none" stroke="#2b3d66" stroke-width="1.05" stroke-dasharray="1.1 0.8"/>
<rect x="52.80" y="234.70" width="2.0" height="2.0" fill="#b8c2d6" stroke="#2b3d66" stroke-width="0.85"/>
<rect x="55.70" y="233.30" width="2.0" height="2.0" fill="#b8c2d6" stroke="#2b3d66" stroke-width="0.85"/>
<rect x="58.40" y="232.00" width="2.0" height="2.0" fill="#b8c2d6" stroke="#2b3d66" stroke-width="0.85"/>
<rect x="61.10" y="229.30" width="2.0" height="2.0" fill="#b8c2d6" stroke="#2b3d66" stroke-width="0.85"/>
<rect x="63.10" y="227.30" width="2.0" height="2.0" fill="#b8c2d6" stroke="#2b3d66" stroke-width="0.85"/>
<rect x="65.80" y="227.90" width="2.0" height="2.0" fill="#b8c2d6" stroke="#2b3d66" stroke-width="0.85"/>
<rect x="68.50" y="225.20" width="2.0" height="2.0" fill="#b8c2d6" stroke="#2b3d66" stroke-width="0.85"/>
<rect x="71.20" y="224.30" width="2.0" height="2.0" fill="#b8c2d6" stroke="#2b3d66" stroke-width="0.85"/>
<rect x="73.90" y="223.20" width="2.0" height="2.0" fill="#b8c2d6" stroke="#2b3d66" stroke-width="0.85"/>
<rect x="75.90" y="224.60" width="2.0" height="2.0" fill="#b8c2d6" stroke="#2b3d66" stroke-width="0.85"/>
<rect x="77.50" y="221.20" width="2.0" height="2.0" fill="#b8c2d6" stroke="#2b3d66" stroke-width="0.85"/>
<rect x="80.20" y="230.60" width="2.0" height="2.0" fill="#b8c2d6" stroke="#2b3d66" stroke-width="0.85"/>
<rect x="83.30" y="229.30" width="2.0" height="2.0" fill="#b8c2d6" stroke="#2b3d66" stroke-width="0.85"/>
<rect x="86.00" y="227.50" width="2.0" height="2.0" fill="#b8c2d6" stroke="#2b3d66" stroke-width="0.85"/>
<rect x="89.40" y="225.90" width="2.0" height="2.0" fill="#b8c2d6" stroke="#2b3d66" stroke-width="0.85"/>
<rect x="92.70" y="222.60" width="2.0" height="2.0" fill="#b8c2d6" stroke="#2b3d66" stroke-width="0.85"/>
<rect x="94.80" y="219.90" width="2.0" height="2.0" fill="#b8c2d6" stroke="#2b3d66" stroke-width="0.85"/>
<rect x="97.50" y="217.20" width="2.0" height="2.0" fill="#b8c2d6" stroke="#2b3d66" stroke-width="0.85"/>
<rect x="102.20" y="221.20" width="2.0" height="2.0" fill="#b8c2d6" stroke="#2b3d66" stroke-width="0.85"/>
<rect x="105.50" y="222.60" width="2.0" height="2.0" fill="#b8c2d6" stroke="#2b3d66" stroke-width="0.85"/>
<rect x="110.20" y="221.90" width="2.0" height="2.0" fill="#b8c2d6" stroke="#2b3d66" stroke-width="0.85"/>
<rect x="115.00" y="217.80" width="2.0" height="2.0" fill="#b8c2d6" stroke="#2b3d66" stroke-width="0.85"/>
<rect x="118.70" y="214.30" width="2.0" height="2.0" fill="#b8c2d6" stroke="#2b3d66" stroke-width="0.85"/>
<rect x="122.30" y="212.50" width="2.0" height="2.0" fill="#b8c2d6" stroke="#2b3d66" stroke-width="0.85"/>
<rect x="126.80" y="214.30" width="2.0" height="2.0" fill="#b8c2d6" stroke="#2b3d66" stroke-width="0.85"/>
<rect x="130.20" y="217.60" width="2.0" height="2.0" fill="#b8c2d6" stroke="#2b3d66" stroke-width="0.85"/>
<rect x="134.20" y="216.00" width="2.0" height="2.0" fill="#b8c2d6" stroke="#2b3d66" stroke-width="0.85"/>
<rect x="138.20" y="216.70" width="2.0" height="2.0" fill="#b8c2d6" stroke="#2b3d66" stroke-width="0.85"/>
<rect x="142.50" y="216.30" width="2.0" height="2.0" fill="#b8c2d6" stroke="#2b3d66" stroke-width="0.85"/>
<rect x="147.00" y="196.80" width="2.0" height="2.0" fill="#b8c2d6" stroke="#2b3d66" stroke-width="0.85"/>
<rect x="150.10" y="186.00" width="2.0" height="2.0" fill="#b8c2d6" stroke="#2b3d66" stroke-width="0.85"/>
<rect x="153.00" y="186.70" width="2.0" height="2.0" fill="#b8c2d6" stroke="#2b3d66" stroke-width="0.85"/>
<rect x="156.40" y="187.40" width="2.0" height="2.0" fill="#b8c2d6" stroke="#2b3d66" stroke-width="0.85"/>
<rect x="159.80" y="187.80" width="2.0" height="2.0" fill="#b8c2d6" stroke="#2b3d66" stroke-width="0.85"/>
<rect x="163.50" y="188.30" width="2.0" height="2.0" fill="#b8c2d6" stroke="#2b3d66" stroke-width="0.85"/>
<rect x="167.20" y="189.40" width="2.0" height="2.0" fill="#b8c2d6" stroke="#2b3d66" stroke-width="0.85"/>
<rect x="171.90" y="191.40" width="2.0" height="2.0" fill="#b8c2d6" stroke="#2b3d66" stroke-width="0.85"/>
<rect x="175.90" y="193.20" width="2.0" height="2.0" fill="#b8c2d6" stroke="#2b3d66" stroke-width="0.85"/>
<rect x="179.60" y="194.60" width="2.0" height="2.0" fill="#b8c2d6" stroke="#2b3d66" stroke-width="0.85"/>
<rect x="183.80" y="187.60" width="2.0" height="2.0" fill="#b8c2d6" stroke="#2b3d66" stroke-width="0.85"/>
<rect x="187.30" y="196.70" width="2.0" height="2.0" fill="#b8c2d6" stroke="#2b3d66" stroke-width="0.85"/>
<rect x="191.50" y="200.20" width="2.0" height="2.0" fill="#b8c2d6" stroke="#2b3d66" stroke-width="0.85"/>
<rect x="195.60" y="200.60" width="2.0" height="2.0" fill="#b8c2d6" stroke="#2b3d66" stroke-width="0.85"/>
<rect x="199.10" y="194.60" width="2.0" height="2.0" fill="#b8c2d6" stroke="#2b3d66" stroke-width="0.85"/>
<rect x="203.30" y="201.60" width="2.0" height="2.0" fill="#b8c2d6" stroke="#2b3d66" stroke-width="0.85"/>
<rect x="206.80" y="198.10" width="2.0" height="2.0" fill="#b8c2d6" stroke="#2b3d66" stroke-width="0.85"/>
<rect x="211.00" y="202.30" width="2.0" height="2.0" fill="#b8c2d6" stroke="#2b3d66" stroke-width="0.85"/>
<rect x="215.20" y="204.00" width="2.0" height="2.0" fill="#b8c2d6" stroke="#2b3d66" stroke-width="0.85"/>
<polyline points="53.8,302.8 55.4,305.5 58.7,307.5 62.8,306.8 65.5,310.9 70.2,308.8 74.2,313.6 76.9,316.9 79.6,312.9 83.0,313.6 86.3,310.9 90.4,314.2 94.4,312.9 98.7,316.6 103.2,312.9 107.2,316.2 111.2,314.2 116.0,313.6 119.6,316.3 123.4,318.6 127.9,321.6 131.7,311.4 135.5,314.5 140.1,307.9 143.9,327.0 147.7,322.4 152.3,309.5 156.1,309.0 160.4,307.9 164.0,331.5 168.3,316.3 171.8,314.8 176.9,310.2 183.0,337.6 187.1,325.4 193.6,309.9 197.3,309.5 203.8,330.3 209.1,319.4 213.7,310.2 218.3,304.1" fill="none" stroke="#961239" stroke-width="1.4" stroke-linejoin="round"/>
<circle cx="53.8" cy="302.8" r="1.15" fill="#7a0e30"/>
<circle cx="55.4" cy="305.5" r="1.15" fill="#7a0e30"/>
<circle cx="58.7" cy="307.5" r="1.15" fill="#7a0e30"/>
<circle cx="62.8" cy="306.8" r="1.15" fill="#7a0e30"/>
<circle cx="65.5" cy="310.9" r="1.15" fill="#7a0e30"/>
<circle cx="70.2" cy="308.8" r="1.15" fill="#7a0e30"/>
<circle cx="74.2" cy="313.6" r="1.15" fill="#7a0e30"/>
<circle cx="76.9" cy="316.9" r="1.15" fill="#7a0e30"/>
<circle cx="79.6" cy="312.9" r="1.15" fill="#7a0e30"/>
<circle cx="83.0" cy="313.6" r="1.15" fill="#7a0e30"/>
<circle cx="86.3" cy="310.9" r="1.15" fill="#7a0e30"/>
<circle cx="90.4" cy="314.2" r="1.15" fill="#7a0e30"/>
<circle cx="94.4" cy="312.9" r="1.15" fill="#7a0e30"/>
<circle cx="98.7" cy="316.6" r="1.15" fill="#7a0e30"/>
<circle cx="103.2" cy="312.9" r="1.15" fill="#7a0e30"/>
<circle cx="107.2" cy="316.2" r="1.15" fill="#7a0e30"/>
<circle cx="111.2" cy="314.2" r="1.15" fill="#7a0e30"/>
<circle cx="116.0" cy="313.6" r="1.15" fill="#7a0e30"/>
<circle cx="119.6" cy="316.3" r="1.15" fill="#7a0e30"/>
<circle cx="123.4" cy="318.6" r="1.15" fill="#7a0e30"/>
<circle cx="127.9" cy="321.6" r="1.15" fill="#7a0e30"/>
<circle cx="131.7" cy="311.4" r="1.15" fill="#7a0e30"/>
<circle cx="135.5" cy="314.5" r="1.15" fill="#7a0e30"/>
<circle cx="140.1" cy="307.9" r="1.15" fill="#7a0e30"/>
<circle cx="143.9" cy="327.0" r="1.15" fill="#7a0e30"/>
<circle cx="147.7" cy="322.4" r="1.15" fill="#7a0e30"/>
<circle cx="152.3" cy="309.5" r="1.15" fill="#7a0e30"/>
<circle cx="156.1" cy="309.0" r="1.15" fill="#7a0e30"/>
<circle cx="160.4" cy="307.9" r="1.15" fill="#7a0e30"/>
<circle cx="164.0" cy="331.5" r="1.15" fill="#7a0e30"/>
<circle cx="168.3" cy="316.3" r="1.15" fill="#7a0e30"/>
<circle cx="171.8" cy="314.8" r="1.15" fill="#7a0e30"/>
<circle cx="176.9" cy="310.2" r="1.15" fill="#7a0e30"/>
<circle cx="183.0" cy="337.6" r="1.15" fill="#7a0e30"/>
<circle cx="187.1" cy="325.4" r="1.15" fill="#7a0e30"/>
<circle cx="193.6" cy="309.9" r="1.15" fill="#7a0e30"/>
<circle cx="197.3" cy="309.5" r="1.15" fill="#7a0e30"/>
<circle cx="203.8" cy="330.3" r="1.15" fill="#7a0e30"/>
<circle cx="209.1" cy="319.4" r="1.15" fill="#7a0e30"/>
<circle cx="213.7" cy="310.2" r="1.15" fill="#7a0e30"/>
<circle cx="218.3" cy="304.1" r="1.15" fill="#7a0e30"/>
<polyline points="53.8,308.2 58.7,304.1 62.8,312.2 67.5,310.2 68.8,314.2 74.2,310.9 78.3,313.6 83.0,312.6 87.0,313.6 90.4,314.2 94.4,312.2 99.1,316.9 103.2,312.9 107.2,316.2 111.6,314.0 116.0,318.3 118.8,314.8 123.4,314.5 127.2,314.0 131.7,314.0 136.0,314.0 140.1,311.7 143.9,314.0 148.2,350.1 150.8,347.5 152.3,343.7 156.1,330.8 159.9,318.6 164.0,317.8 168.3,314.0 172.6,314.0 176.4,322.4 180.2,317.1 184.8,317.8 189.4,315.5 193.2,320.6 197.0,319.4 201.5,317.8 205.3,317.1 209.9,314.5 214.0,316.3 217.5,319.4" fill="none" stroke="#2b3d66" stroke-width="1.05" stroke-dasharray="1.1 0.8"/>
<rect x="52.92" y="307.32" width="1.75" height="1.75" fill="#7d8db0" stroke="#2b3d66" stroke-width="0.85"/>
<rect x="57.83" y="303.23" width="1.75" height="1.75" fill="#7d8db0" stroke="#2b3d66" stroke-width="0.85"/>
<rect x="61.92" y="311.32" width="1.75" height="1.75" fill="#7d8db0" stroke="#2b3d66" stroke-width="0.85"/>
<rect x="66.62" y="309.32" width="1.75" height="1.75" fill="#7d8db0" stroke="#2b3d66" stroke-width="0.85"/>
<rect x="67.92" y="313.32" width="1.75" height="1.75" fill="#7d8db0" stroke="#2b3d66" stroke-width="0.85"/>
<rect x="73.33" y="310.02" width="1.75" height="1.75" fill="#7d8db0" stroke="#2b3d66" stroke-width="0.85"/>
<rect x="77.42" y="312.73" width="1.75" height="1.75" fill="#7d8db0" stroke="#2b3d66" stroke-width="0.85"/>
<rect x="82.12" y="311.73" width="1.75" height="1.75" fill="#7d8db0" stroke="#2b3d66" stroke-width="0.85"/>
<rect x="86.12" y="312.73" width="1.75" height="1.75" fill="#7d8db0" stroke="#2b3d66" stroke-width="0.85"/>
<rect x="89.53" y="313.32" width="1.75" height="1.75" fill="#7d8db0" stroke="#2b3d66" stroke-width="0.85"/>
<rect x="93.53" y="311.32" width="1.75" height="1.75" fill="#7d8db0" stroke="#2b3d66" stroke-width="0.85"/>
<rect x="98.22" y="316.02" width="1.75" height="1.75" fill="#7d8db0" stroke="#2b3d66" stroke-width="0.85"/>
<rect x="102.33" y="312.02" width="1.75" height="1.75" fill="#7d8db0" stroke="#2b3d66" stroke-width="0.85"/>
<rect x="106.33" y="315.32" width="1.75" height="1.75" fill="#7d8db0" stroke="#2b3d66" stroke-width="0.85"/>
<rect x="110.72" y="313.12" width="1.75" height="1.75" fill="#7d8db0" stroke="#2b3d66" stroke-width="0.85"/>
<rect x="115.12" y="317.43" width="1.75" height="1.75" fill="#7d8db0" stroke="#2b3d66" stroke-width="0.85"/>
<rect x="117.92" y="313.93" width="1.75" height="1.75" fill="#7d8db0" stroke="#2b3d66" stroke-width="0.85"/>
<rect x="122.53" y="313.62" width="1.75" height="1.75" fill="#7d8db0" stroke="#2b3d66" stroke-width="0.85"/>
<rect x="126.33" y="313.12" width="1.75" height="1.75" fill="#7d8db0" stroke="#2b3d66" stroke-width="0.85"/>
<rect x="130.82" y="313.12" width="1.75" height="1.75" fill="#7d8db0" stroke="#2b3d66" stroke-width="0.85"/>
<rect x="135.12" y="313.12" width="1.75" height="1.75" fill="#7d8db0" stroke="#2b3d66" stroke-width="0.85"/>
<rect x="139.22" y="310.82" width="1.75" height="1.75" fill="#7d8db0" stroke="#2b3d66" stroke-width="0.85"/>
<rect x="143.03" y="313.12" width="1.75" height="1.75" fill="#7d8db0" stroke="#2b3d66" stroke-width="0.85"/>
<rect x="147.32" y="349.23" width="1.75" height="1.75" fill="#7d8db0" stroke="#2b3d66" stroke-width="0.85"/>
<rect x="149.93" y="346.62" width="1.75" height="1.75" fill="#7d8db0" stroke="#2b3d66" stroke-width="0.85"/>
<rect x="151.43" y="342.82" width="1.75" height="1.75" fill="#7d8db0" stroke="#2b3d66" stroke-width="0.85"/>
<rect x="155.22" y="329.93" width="1.75" height="1.75" fill="#7d8db0" stroke="#2b3d66" stroke-width="0.85"/>
<rect x="159.03" y="317.73" width="1.75" height="1.75" fill="#7d8db0" stroke="#2b3d66" stroke-width="0.85"/>
<rect x="163.12" y="316.93" width="1.75" height="1.75" fill="#7d8db0" stroke="#2b3d66" stroke-width="0.85"/>
<rect x="167.43" y="313.12" width="1.75" height="1.75" fill="#7d8db0" stroke="#2b3d66" stroke-width="0.85"/>
<rect x="171.72" y="313.12" width="1.75" height="1.75" fill="#7d8db0" stroke="#2b3d66" stroke-width="0.85"/>
<rect x="175.53" y="321.52" width="1.75" height="1.75" fill="#7d8db0" stroke="#2b3d66" stroke-width="0.85"/>
<rect x="179.32" y="316.23" width="1.75" height="1.75" fill="#7d8db0" stroke="#2b3d66" stroke-width="0.85"/>
<rect x="183.93" y="316.93" width="1.75" height="1.75" fill="#7d8db0" stroke="#2b3d66" stroke-width="0.85"/>
<rect x="188.53" y="314.62" width="1.75" height="1.75" fill="#7d8db0" stroke="#2b3d66" stroke-width="0.85"/>
<rect x="192.32" y="319.73" width="1.75" height="1.75" fill="#7d8db0" stroke="#2b3d66" stroke-width="0.85"/>
<rect x="196.12" y="318.52" width="1.75" height="1.75" fill="#7d8db0" stroke="#2b3d66" stroke-width="0.85"/>
<rect x="200.62" y="316.93" width="1.75" height="1.75" fill="#7d8db0" stroke="#2b3d66" stroke-width="0.85"/>
<rect x="204.43" y="316.23" width="1.75" height="1.75" fill="#7d8db0" stroke="#2b3d66" stroke-width="0.85"/>
<rect x="209.03" y="313.62" width="1.75" height="1.75" fill="#7d8db0" stroke="#2b3d66" stroke-width="0.85"/>
<rect x="213.12" y="315.43" width="1.75" height="1.75" fill="#7d8db0" stroke="#2b3d66" stroke-width="0.85"/>
<rect x="216.62" y="318.52" width="1.75" height="1.75" fill="#7d8db0" stroke="#2b3d66" stroke-width="0.85"/>
<polyline points="319.7,364.9 323.7,364.9 327.8,361.5 331.8,361.8 335.2,360.9 339.2,362.2 343.3,360.5 346.6,364.0 350.7,361.5 354.7,363.1 359.4,362.9 363.5,363.6 367.5,366.2 371.5,362.6 375.6,363.6 380.3,356.8 384.3,359.6 388.2,364.5 392.2,334.3 396.2,350.6 400.4,357.7 403.8,364.9 408.9,364.9 412.3,312.1 416.0,354.3 420.8,361.1 425.1,365.9 429.0,339.9 433.6,350.1 437.0,355.2 440.0,362.0 444.3,367.8 447.1,357.8 449.3,290.5 454.4,347.9 458.2,359.0 461.9,365.6 465.5,366.2 467.7,340.2 469.2,303.8 473.6,355.2 477.4,359.6 481.8,366.2" fill="none" stroke="#961239" stroke-width="1.4" stroke-linejoin="round"/>
<circle cx="319.7" cy="364.9" r="1.15" fill="#7a0e30"/>
<circle cx="323.7" cy="364.9" r="1.15" fill="#7a0e30"/>
<circle cx="327.8" cy="361.5" r="1.15" fill="#7a0e30"/>
<circle cx="331.8" cy="361.8" r="1.15" fill="#7a0e30"/>
<circle cx="335.2" cy="360.9" r="1.15" fill="#7a0e30"/>
<circle cx="339.2" cy="362.2" r="1.15" fill="#7a0e30"/>
<circle cx="343.3" cy="360.5" r="1.15" fill="#7a0e30"/>
<circle cx="346.6" cy="364.0" r="1.15" fill="#7a0e30"/>
<circle cx="350.7" cy="361.5" r="1.15" fill="#7a0e30"/>
<circle cx="354.7" cy="363.1" r="1.15" fill="#7a0e30"/>
<circle cx="359.4" cy="362.9" r="1.15" fill="#7a0e30"/>
<circle cx="363.5" cy="363.6" r="1.15" fill="#7a0e30"/>
<circle cx="367.5" cy="366.2" r="1.15" fill="#7a0e30"/>
<circle cx="371.5" cy="362.6" r="1.15" fill="#7a0e30"/>
<circle cx="375.6" cy="363.6" r="1.15" fill="#7a0e30"/>
<circle cx="380.3" cy="356.8" r="1.15" fill="#7a0e30"/>
<circle cx="384.3" cy="359.6" r="1.15" fill="#7a0e30"/>
<circle cx="388.2" cy="364.5" r="1.15" fill="#7a0e30"/>
<circle cx="392.2" cy="334.3" r="1.15" fill="#7a0e30"/>
<circle cx="396.2" cy="350.6" r="1.15" fill="#7a0e30"/>
<circle cx="400.4" cy="357.7" r="1.15" fill="#7a0e30"/>
<circle cx="403.8" cy="364.9" r="1.15" fill="#7a0e30"/>
<circle cx="408.9" cy="364.9" r="1.15" fill="#7a0e30"/>
<circle cx="412.3" cy="312.1" r="1.15" fill="#7a0e30"/>
<circle cx="416.0" cy="354.3" r="1.15" fill="#7a0e30"/>
<circle cx="420.8" cy="361.1" r="1.15" fill="#7a0e30"/>
<circle cx="425.1" cy="365.9" r="1.15" fill="#7a0e30"/>
<circle cx="429.0" cy="339.9" r="1.15" fill="#7a0e30"/>
<circle cx="433.6" cy="350.1" r="1.15" fill="#7a0e30"/>
<circle cx="437.0" cy="355.2" r="1.15" fill="#7a0e30"/>
<circle cx="440.0" cy="362.0" r="1.15" fill="#7a0e30"/>
<circle cx="444.3" cy="367.8" r="1.15" fill="#7a0e30"/>
<circle cx="447.1" cy="357.8" r="1.15" fill="#7a0e30"/>
<circle cx="449.3" cy="290.5" r="1.15" fill="#7a0e30"/>
<circle cx="454.4" cy="347.9" r="1.15" fill="#7a0e30"/>
<circle cx="458.2" cy="359.0" r="1.15" fill="#7a0e30"/>
<circle cx="461.9" cy="365.6" r="1.15" fill="#7a0e30"/>
<circle cx="465.5" cy="366.2" r="1.15" fill="#7a0e30"/>
<circle cx="467.7" cy="340.2" r="1.15" fill="#7a0e30"/>
<circle cx="469.2" cy="303.8" r="1.15" fill="#7a0e30"/>
<circle cx="473.6" cy="355.2" r="1.15" fill="#7a0e30"/>
<circle cx="477.4" cy="359.6" r="1.15" fill="#7a0e30"/>
<circle cx="481.8" cy="366.2" r="1.15" fill="#7a0e30"/>
<polyline points="319.7,364.9 323.7,364.0 327.8,361.5 331.2,365.3 335.2,366.2 339.2,364.5 343.3,365.3 347.3,365.8 351.3,362.2 355.4,364.0 359.4,364.0 362.8,364.5 366.8,365.6 371.5,362.9 374.9,368.3 378.3,365.6 381.6,363.6 384.3,359.3 388.2,362.8 391.9,363.7 396.2,362.0 400.4,359.8 404.7,361.5 408.1,359.4 411.5,348.4 414.0,334.8 416.6,336.0 420.8,348.9 424.6,365.4 429.3,363.2 432.7,366.6 436.1,366.2 439.9,364.5 444.9,360.5 449.3,363.4 454.4,364.0 459.3,360.1 462.6,366.2 468.1,359.0 473.6,365.6 478.0,363.4 481.4,351.7" fill="none" stroke="#2b3d66" stroke-width="1.05" stroke-dasharray="1.1 0.8"/>
<rect x="318.82" y="364.02" width="1.75" height="1.75" fill="#7d8db0" stroke="#2b3d66" stroke-width="0.85"/>
<rect x="322.82" y="363.12" width="1.75" height="1.75" fill="#7d8db0" stroke="#2b3d66" stroke-width="0.85"/>
<rect x="326.93" y="360.62" width="1.75" height="1.75" fill="#7d8db0" stroke="#2b3d66" stroke-width="0.85"/>
<rect x="330.32" y="364.43" width="1.75" height="1.75" fill="#7d8db0" stroke="#2b3d66" stroke-width="0.85"/>
<rect x="334.32" y="365.32" width="1.75" height="1.75" fill="#7d8db0" stroke="#2b3d66" stroke-width="0.85"/>
<rect x="338.32" y="363.62" width="1.75" height="1.75" fill="#7d8db0" stroke="#2b3d66" stroke-width="0.85"/>
<rect x="342.43" y="364.43" width="1.75" height="1.75" fill="#7d8db0" stroke="#2b3d66" stroke-width="0.85"/>
<rect x="346.43" y="364.93" width="1.75" height="1.75" fill="#7d8db0" stroke="#2b3d66" stroke-width="0.85"/>
<rect x="350.43" y="361.32" width="1.75" height="1.75" fill="#7d8db0" stroke="#2b3d66" stroke-width="0.85"/>
<rect x="354.52" y="363.12" width="1.75" height="1.75" fill="#7d8db0" stroke="#2b3d66" stroke-width="0.85"/>
<rect x="358.52" y="363.12" width="1.75" height="1.75" fill="#7d8db0" stroke="#2b3d66" stroke-width="0.85"/>
<rect x="361.93" y="363.62" width="1.75" height="1.75" fill="#7d8db0" stroke="#2b3d66" stroke-width="0.85"/>
<rect x="365.93" y="364.73" width="1.75" height="1.75" fill="#7d8db0" stroke="#2b3d66" stroke-width="0.85"/>
<rect x="370.62" y="362.02" width="1.75" height="1.75" fill="#7d8db0" stroke="#2b3d66" stroke-width="0.85"/>
<rect x="374.02" y="367.43" width="1.75" height="1.75" fill="#7d8db0" stroke="#2b3d66" stroke-width="0.85"/>
<rect x="377.43" y="364.73" width="1.75" height="1.75" fill="#7d8db0" stroke="#2b3d66" stroke-width="0.85"/>
<rect x="380.73" y="362.73" width="1.75" height="1.75" fill="#7d8db0" stroke="#2b3d66" stroke-width="0.85"/>
<rect x="383.43" y="358.43" width="1.75" height="1.75" fill="#7d8db0" stroke="#2b3d66" stroke-width="0.85"/>
<rect x="387.32" y="361.93" width="1.75" height="1.75" fill="#7d8db0" stroke="#2b3d66" stroke-width="0.85"/>
<rect x="391.02" y="362.82" width="1.75" height="1.75" fill="#7d8db0" stroke="#2b3d66" stroke-width="0.85"/>
<rect x="395.32" y="361.12" width="1.75" height="1.75" fill="#7d8db0" stroke="#2b3d66" stroke-width="0.85"/>
<rect x="399.52" y="358.93" width="1.75" height="1.75" fill="#7d8db0" stroke="#2b3d66" stroke-width="0.85"/>
<rect x="403.82" y="360.62" width="1.75" height="1.75" fill="#7d8db0" stroke="#2b3d66" stroke-width="0.85"/>
<rect x="407.23" y="358.52" width="1.75" height="1.75" fill="#7d8db0" stroke="#2b3d66" stroke-width="0.85"/>
<rect x="410.62" y="347.52" width="1.75" height="1.75" fill="#7d8db0" stroke="#2b3d66" stroke-width="0.85"/>
<rect x="413.12" y="333.93" width="1.75" height="1.75" fill="#7d8db0" stroke="#2b3d66" stroke-width="0.85"/>
<rect x="415.73" y="335.12" width="1.75" height="1.75" fill="#7d8db0" stroke="#2b3d66" stroke-width="0.85"/>
<rect x="419.93" y="348.02" width="1.75" height="1.75" fill="#7d8db0" stroke="#2b3d66" stroke-width="0.85"/>
<rect x="423.73" y="364.52" width="1.75" height="1.75" fill="#7d8db0" stroke="#2b3d66" stroke-width="0.85"/>
<rect x="428.43" y="362.32" width="1.75" height="1.75" fill="#7d8db0" stroke="#2b3d66" stroke-width="0.85"/>
<rect x="431.82" y="365.73" width="1.75" height="1.75" fill="#7d8db0" stroke="#2b3d66" stroke-width="0.85"/>
<rect x="435.23" y="365.32" width="1.75" height="1.75" fill="#7d8db0" stroke="#2b3d66" stroke-width="0.85"/>
<rect x="439.02" y="363.62" width="1.75" height="1.75" fill="#7d8db0" stroke="#2b3d66" stroke-width="0.85"/>
<rect x="444.02" y="359.62" width="1.75" height="1.75" fill="#7d8db0" stroke="#2b3d66" stroke-width="0.85"/>
<rect x="448.43" y="362.52" width="1.75" height="1.75" fill="#7d8db0" stroke="#2b3d66" stroke-width="0.85"/>
<rect x="453.52" y="363.12" width="1.75" height="1.75" fill="#7d8db0" stroke="#2b3d66" stroke-width="0.85"/>
<rect x="458.43" y="359.23" width="1.75" height="1.75" fill="#7d8db0" stroke="#2b3d66" stroke-width="0.85"/>
<rect x="461.73" y="365.32" width="1.75" height="1.75" fill="#7d8db0" stroke="#2b3d66" stroke-width="0.85"/>
<rect x="467.23" y="358.12" width="1.75" height="1.75" fill="#7d8db0" stroke="#2b3d66" stroke-width="0.85"/>
<rect x="472.73" y="364.73" width="1.75" height="1.75" fill="#7d8db0" stroke="#2b3d66" stroke-width="0.85"/>
<rect x="477.12" y="362.52" width="1.75" height="1.75" fill="#7d8db0" stroke="#2b3d66" stroke-width="0.85"/>
<rect x="480.52" y="350.82" width="1.75" height="1.75" fill="#7d8db0" stroke="#2b3d66" stroke-width="0.85"/>
<polyline points="319.2,109.5 321.5,107.8 323.4,106.8 326.2,104.7 328.3,103.3 330.4,101.9 332.5,100.2 334.6,98.4 336.6,96.8 338.7,95.2 342.9,96.0" fill="none" stroke="#2c3260" stroke-width="2.4" stroke-linejoin="round" stroke-linecap="round"/>
<polyline points="53.8,235.7 56.7,234.3 59.4,233.0 62.1,230.3 64.1,228.3 66.8,228.9 69.5,226.2 72.2,225.3 74.9,224.2 76.9,225.6 78.5,222.2" fill="none" stroke="#2c3260" stroke-width="2.4" stroke-linejoin="round" stroke-linecap="round"/>
<polyline points="81.2,231.6 84.3,230.3 87.0,228.5 90.4,226.9 93.7,223.6 95.8,220.9 98.5,218.2" fill="none" stroke="#43244f" stroke-width="1.8" stroke-linejoin="round" stroke-linecap="round"/>
</g>
<rect x="0" y="0" width="1.5" height="394" fill="#000"/>
<rect x="0" y="0" width="520" height="1.4" fill="#000"/>
<rect x="518.3" y="0" width="1.7" height="394" fill="#000"/>
<rect x="0" y="392.1" width="520" height="1.9" fill="#000"/>
</svg>
</body></html>
